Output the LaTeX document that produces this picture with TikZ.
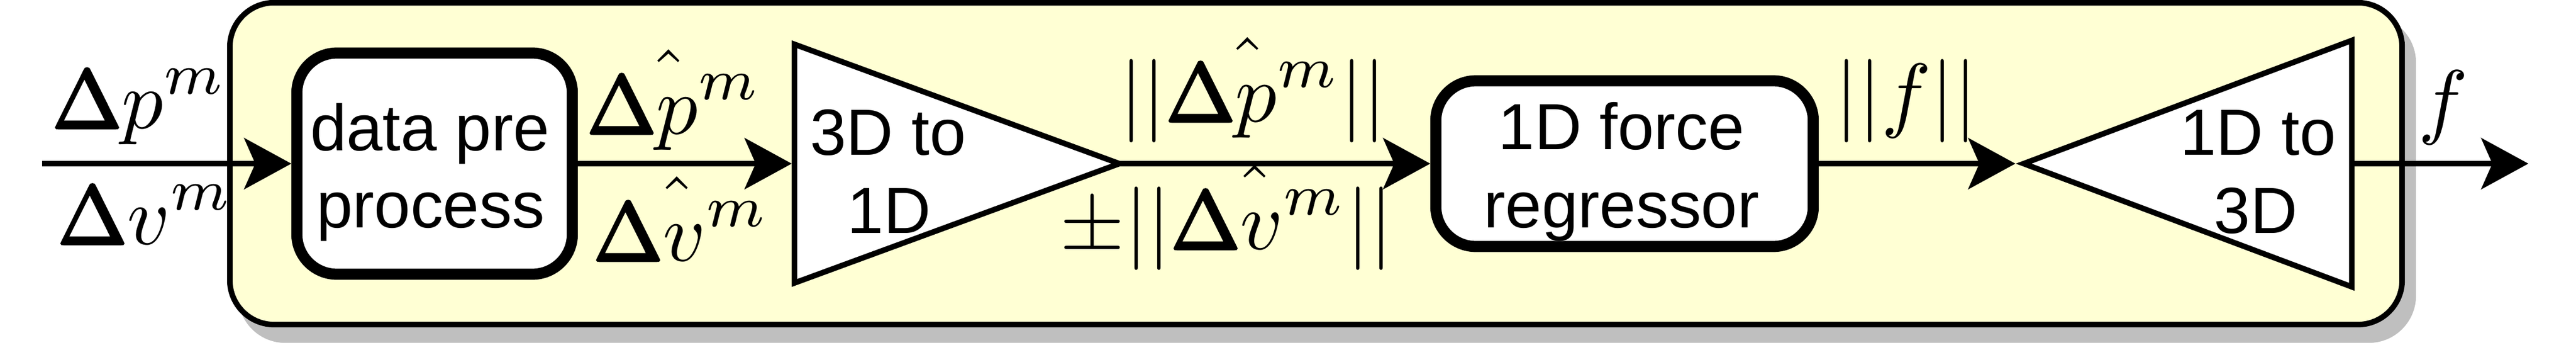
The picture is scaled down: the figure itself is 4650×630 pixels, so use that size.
\documentclass[tikz,border=0pt]{standalone}
\usepackage{fontspec}
\newfontfamily\lsans{Liberation Sans}
\newfontfamily\heavyrm{latinmodern-math.otf}[FakeBold=3]
\usetikzlibrary{arrows.meta,shapes.geometric}
\definecolor{boxyellow}{RGB}{255,255,212}
\definecolor{shadowgray}{RGB}{191,191,191}
\newcommand\raisedhat[2]{{\smash{\hat{\vphantom{|}#1\mkern-#2mu}}\mkern#2mu}}
\newcommand\heavyDelta{\mathord{\hbox{\heavyrm\symbol{"0394}}}}
\tikzset{
  outerframe/.style={draw=black, line width=0.1cm, rounded corners=0.8cm,
    minimum width=39.19cm, minimum height=5.8cm, inner sep=0pt},
  procbox/.style={draw=black, fill=white, line width=0.2cm, rounded corners=0.72cm, inner sep=0pt},
  conv/.style={draw=black, fill=white, line width=0.1cm, isosceles triangle,
    isosceles triangle stretches=true, inner sep=0pt, outer sep=0pt, anchor=apex},
  boxtext/.style={font=\lsans\fontsize{33.46}{40}\selectfont, inner sep=0pt, anchor=base},
  mathlabel/.style={font=\fontsize{10}{12}\selectfont, scale=4.268, inner sep=0pt, anchor=base},
  flow/.style={line width=0.1cm, -{Stealth[length=0.85cm, width=0.92cm, inset=0.2cm]}},
}
\begin{document}
\begin{tikzpicture}[x=0.01cm, y=-0.01cm]
\useasboundingbox (0,0) rectangle (4650,630);
% shadow and frame
\node[outerframe, draw=shadowgray, fill=shadowgray] (shadow) at (2395.5,323) {};
\node[outerframe, fill=boxyellow] (outer) at (2375.5,295) {};
% blocks
\node[procbox, minimum width=4.97cm, minimum height=3.985cm] (b1) at (784.5,295) {};
\node[conv, minimum height=5.86cm, minimum width=4.3cm] (t1) at (2020.5,295) {};
\node[procbox, minimum width=6.81cm, minimum height=2.985cm] (b2) at (2932.5,295) {};
\node[conv, shape border rotate=180, minimum height=5.92cm, minimum width=4.44cm] (t2) at (3653,295) {};
% block texts
\node[boxtext] (b1a) at (776,271) {data pre};
\node[boxtext] (b1b) at (777,410) {process};
\node[boxtext] (t1a) at (1603,279) {3D to};
\node[boxtext] (t1b) at (1605,420) {1D};
\node[boxtext] (b2a) at (2927,269) {1D force};
\node[boxtext] (b2b) at (2927,410) {regressor};
\node[boxtext] (t2a) at (4076,279) {1D to};
\node[boxtext] (t2b) at (4072,420) {3D};
% connectors
\coordinate (in) at (76,295);
\coordinate (out) at (4564,295);
\draw[flow] (in) -- (b1);
\draw[flow, shorten >=0.05cm] (b1) -- (t1.lower side);
\draw[flow] (t1.apex) -- (b2);
\draw[flow, shorten >=0.15cm] (b2) -- (t2.apex);
\draw[flow] (t2.lower side) -- (out);
% labels
\node[mathlabel] (lp) at (252,231) {$\displaystyle\heavyDelta p^m$};
\node[mathlabel] (lv) at (263,440) {$\displaystyle\heavyDelta v^m$};
\node[mathlabel] (lph) at (1217,241) {$\displaystyle\heavyDelta\raisedhat{p}{3.6}^m$};
\node[mathlabel] (lvh) at (1230,470) {$\displaystyle\heavyDelta\raisedhat{v}{3.2}^m$};
\node[mathlabel] (lnp) at (2262,219) {$\displaystyle||\heavyDelta\raisedhat{p}{3.6}^m||$};
\node[mathlabel] (lnv) at (2214,449) {$\displaystyle\pm||\heavyDelta\raisedhat{v}{3.2}^m||$};
\node[mathlabel] (lnf) at (3441,219) {$\displaystyle||f||$};
\node[mathlabel] (lf) at (4410,231) {$\displaystyle f$};
\end{tikzpicture}
\end{document}
